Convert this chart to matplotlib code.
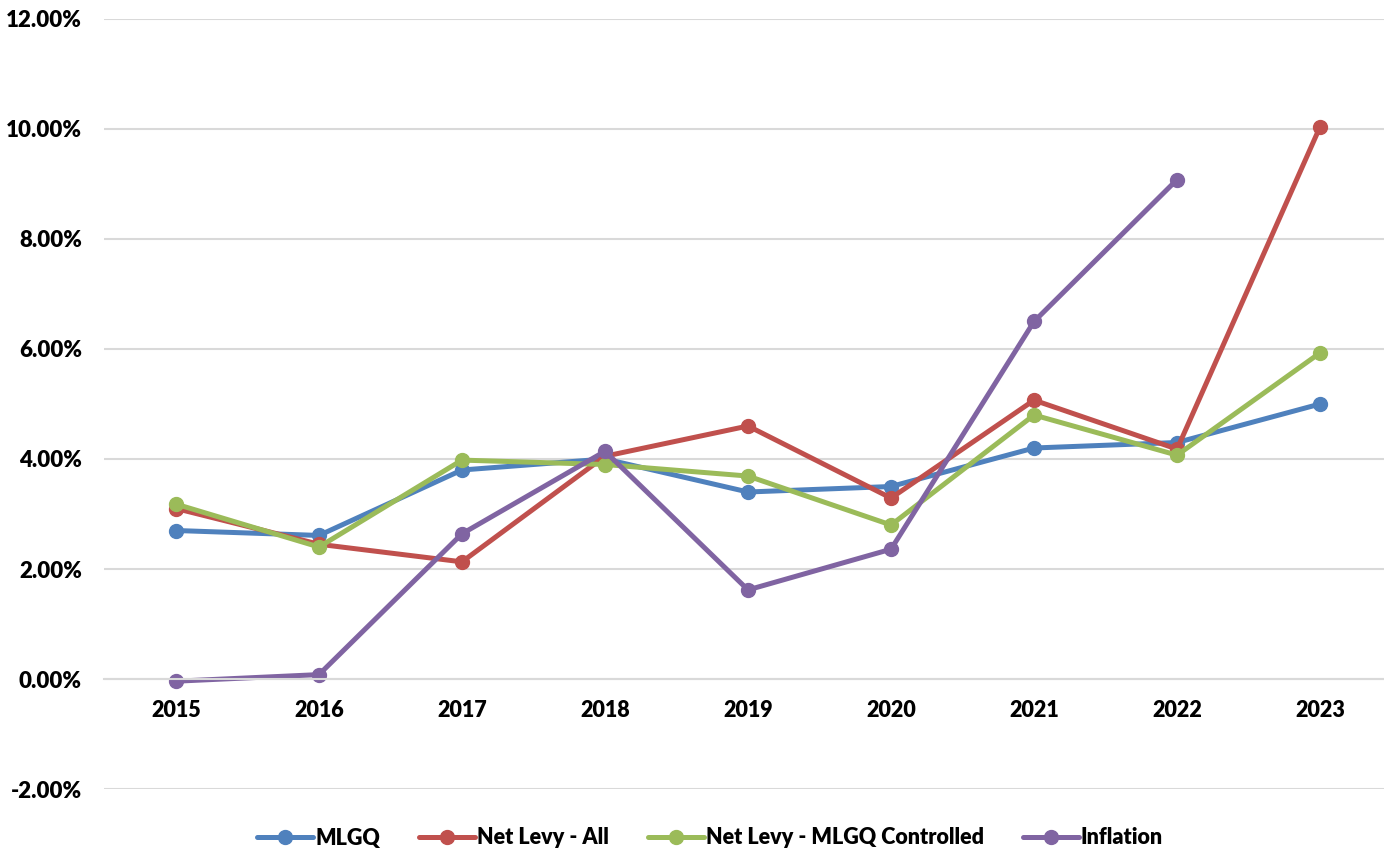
import numpy as np
import matplotlib.pyplot as plt

plt.rcParams['font.family'] = ['Lato', 'DejaVu Sans']
plt.rcParams['font.weight'] = 'heavy'

years = ['2015', '2016', '2017', '2018', '2019', '2020', '2021', '2022', '2023']
mlgq = [2.70, 2.61, 3.80, 4.00, 3.40, 3.50, 4.20, 4.30, 5.00]
levy_all = [3.10, 2.45, 2.13, 4.05, 4.60, 3.29, 5.07, 4.18, 10.04]
levy_ctrl = [3.18, 2.40, 3.98, 3.90, 3.69, 2.80, 4.80, 4.07, 5.93]
inflation = [-0.04, 0.08, 2.64, 4.14, 1.62, 2.36, 6.50, 9.08, np.nan]

names = ['MLGQ', 'Net Levy - All', 'Net Levy - MLGQ Controlled', 'Inflation']
colors = ['#4F81BD', '#C0504D', '#9BBB59', '#8064A2']

fig = plt.figure(figsize=(13.84, 8.51), dpi=100)
ax = fig.add_axes([104 / 1384, 1 - 789 / 851, 1 - 104 / 1384, (789 - 19) / 851])

x = np.arange(len(years))
for vals, name, c in zip([mlgq, levy_all, levy_ctrl, inflation], names, colors):
    ax.plot(x, vals, color=c, lw=3.6, marker='o', markersize=10, label=name,
            solid_capstyle='round', solid_joinstyle='round')

ax.set_ylim(-2, 12)
ax.set_xlim(-0.503, 8.447)
ax.set_yticks(np.arange(-2, 13, 2))
ax.set_yticklabels([f'{v:.2f}%' for v in np.arange(-2, 13, 2)])
ax.set_xticks(x)
ax.set_xticklabels(years)
ax.grid(axis='y', color='#D9D9D9', lw=1.5)
ax.set_axisbelow(True)
for s in ['top', 'right', 'left']:
    ax.spines[s].set_visible(False)
ax.spines['bottom'].set_position(('data', 0))
ax.spines['bottom'].set_color('#D9D9D9')
ax.spines['bottom'].set_linewidth(1.5)
ax.tick_params(axis='both', length=0, labelsize=15.5)
ax.tick_params(axis='y', labelsize=16, pad=16)
ax.tick_params(axis='x', pad=15)

fig.legend(loc='center', bbox_to_anchor=(710 / 1384, 1 - 838 / 851), ncol=4,
           frameon=False, fontsize=15.5, handlelength=2.6, columnspacing=1.8,
           handletextpad=0.1)

fig.savefig('out.png', dpi=100)
